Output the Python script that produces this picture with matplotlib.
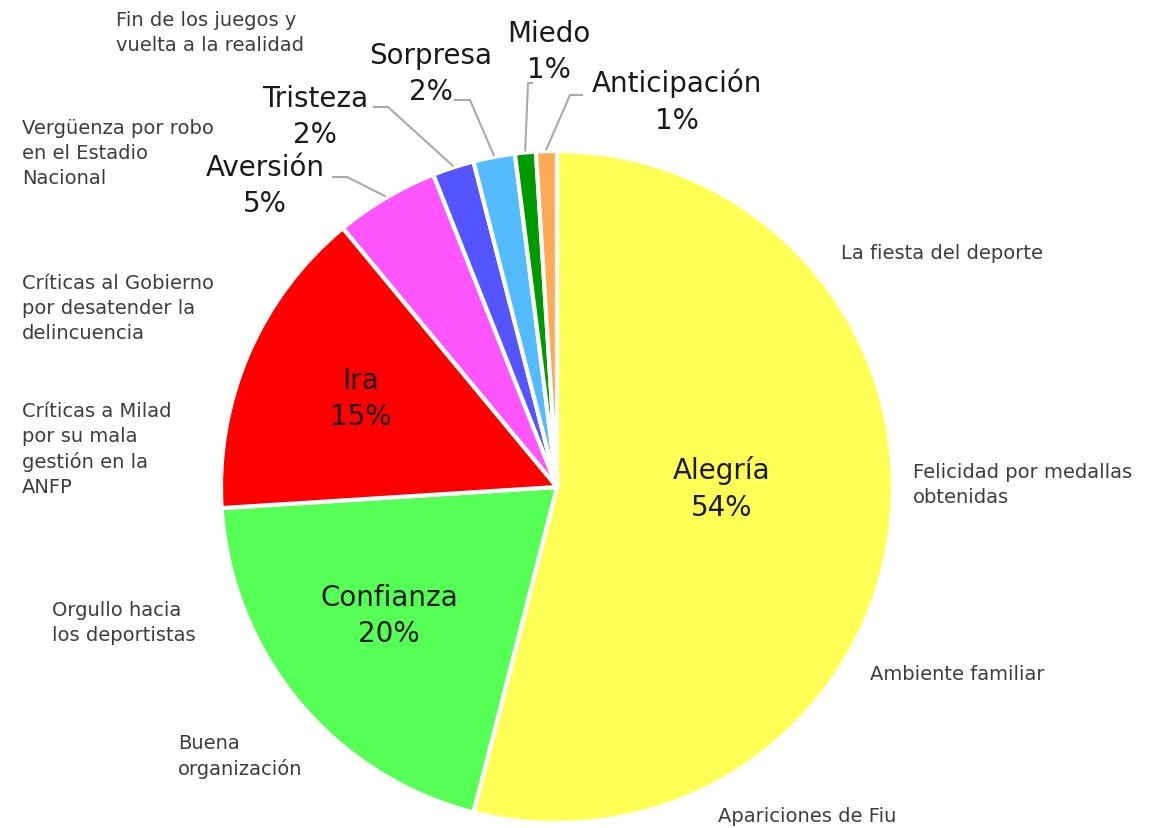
import matplotlib.pyplot as plt
import numpy as np

# datos del gráfico
emociones = ['Alegría', 'Confianza', 'Ira', 'Aversión', 'Tristeza', 'Sorpresa', 'Miedo', 'Anticipación']
porcentajes = [54, 20, 15, 5, 2, 2, 1, 1]
colores = ['#FFFF55', '#55FF55', '#FF0000', '#FF55FF', '#5555FF', '#55BBFF', '#009900', '#FFAA55']

# comentarios alrededor del gráfico
comentarios = [
    'Fin de los juegos y\nvuelta a la realidad',
    'Vergüenza por robo\nen el Estadio\nNacional',
    'Críticas al Gobierno\npor desatender la\ndelincuencia',
    'Críticas a Milad\npor su mala\ngestión en la\nANFP',
    'Orgullo hacia\nlos deportistas',
    'Buena\norganización',
    'La fiesta del deporte',
    'Felicidad por medallas\nobtenidas',
    'Ambiente familiar',
    'Apariciones de Fiu',
]
pos_comentarios = [(116, 11), (22, 119), (22, 274), (22, 402), (52, 601),
                   (178, 734), (841, 244), (913, 463), (870, 665), (718, 807)]

fig = plt.figure(figsize=(11.56, 8.29), dpi=100)
ax = fig.add_axes([0, 0, 1, 1])

cx, cy, R = 557, 488, 336
# el eje y está invertido, así que el sentido horario visual = counterclock True con ángulo -90
wedges, _ = ax.pie(porcentajes, colors=colores, startangle=-90, counterclock=True,
                   center=(cx, cy), radius=R, frame=True,
                   wedgeprops=dict(edgecolor='white', linewidth=3))
ax.set_xlim(0, 1156)
ax.set_ylim(829, 0)
ax.axis('off')

texto = '#1a1a1a'
# etiquetas dentro del gráfico
dentro = {0: (722, 489), 1: (389, 616), 2: (361, 399)}
for i, (x, y) in dentro.items():
    ax.text(x, y, f'{emociones[i]}\n{porcentajes[i]}%', ha='center', va='center',
            fontsize=20, color=texto, linespacing=1.4)

# etiquetas fuera con líneas guía: (posición texto, codo, inicio línea)
fuera = {
    3: ((265, 186), (347, 178), (333, 178)),
    4: ((315, 117), (388, 108), (374, 108)),
    5: ((431, 74), (470, 101), (455, 101)),
    6: ((549, 52), (528, 84), (532, 84)),
    7: ((677, 102), (570, 96), (582, 96)),
}
cum = np.cumsum([0] + porcentajes)
for i, (tpos, codo, ini) in fuera.items():
    mid = (cum[i] + cum[i + 1]) / 2 / 100
    ang = np.deg2rad(90 - 360 * mid)
    px, py = cx + (R + 2) * np.cos(ang), cy - (R + 2) * np.sin(ang)
    ax.plot([ini[0], codo[0], px], [ini[1], codo[1], py], color='#aaaaaa', lw=1.5)
    ax.text(tpos[0], tpos[1], f'{emociones[i]}\n{porcentajes[i]}%', ha='center', va='center',
            fontsize=20, color=texto, linespacing=1.4)

for c, (x, y) in zip(comentarios, pos_comentarios):
    ax.text(x, y, c, ha='left', va='top', fontsize=14, color='#3d3d3d',
            linespacing=1.4)

plt.savefig('out.png', dpi=100)
